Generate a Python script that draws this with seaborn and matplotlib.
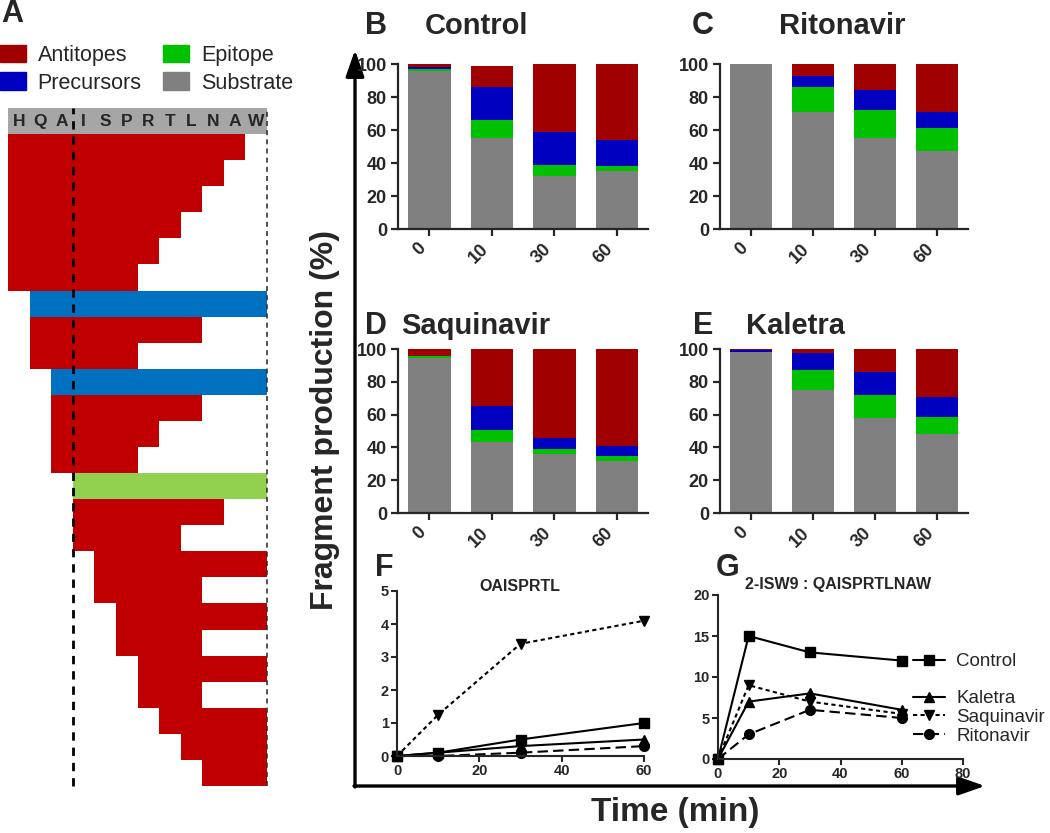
import numpy as np
import matplotlib.pyplot as plt
from matplotlib.patches import Patch
from matplotlib.lines import Line2D
import seaborn as sns

sns.set_style('ticks')
plt.rcParams['font.family'] = ['Liberation Sans', 'DejaVu Sans']
plt.rcParams['font.weight'] = 'bold'

W, H = 1050, 833

# panel A: fragments of HQA|ISPRTLNAW (residue index, end exclusive)
residues = ['H', 'Q', 'A', 'I', 'S', 'P', 'R', 'T', 'L', 'N', 'A', 'W']
frag_start = [0, 0, 0, 0, 0, 0, 1, 1, 1, 2, 2, 2, 2, 3, 3, 3, 4, 4, 5, 5, 6, 6, 7, 8, 9]
frag_end = [11, 10, 9, 8, 7, 6, 12, 9, 6, 12, 9, 7, 6, 12, 10, 8, 12, 9, 12, 9, 12, 9, 12, 12, 12]
frag_kind = (['Antitopes'] * 6
             + ['Precursors', 'Antitopes', 'Antitopes', 'Precursors', 'Antitopes', 'Antitopes', 'Antitopes', 'Epitope']
             + ['Antitopes'] * 11)

# panels B-E: fragment production (%)
times = ['0', '10', '30', '60']
control_substrate = [96, 55, 32, 35]
control_epitope = [1, 11, 7, 3]
control_precursors = [1, 20, 20, 16]
control_antitopes = [2, 13, 41, 46]
ritonavir_substrate = [100, 71, 55, 47]
ritonavir_epitope = [0, 15, 17, 14]
ritonavir_precursors = [0, 7, 12, 10]
ritonavir_antitopes = [0, 7, 16, 29]
saquinavir_substrate = [94.5, 43, 36, 32]
saquinavir_epitope = [1, 7.5, 3, 3]
saquinavir_precursors = [0, 14.5, 7, 6]
saquinavir_antitopes = [4.5, 35, 54, 59]
kaletra_substrate = [98, 75, 58, 48]
kaletra_epitope = [0, 12, 14, 10.5]
kaletra_precursors = [1.2, 10.5, 14, 12.5]
kaletra_antitopes = [0.8, 2.5, 14, 29]

# panels F, G
minutes = [0, 10, 30, 60]
f_control = [0, 0.1, 0.5, 1.0]
f_kaletra = [0, 0.1, 0.3, 0.5]
f_saquinavir = [0, 1.25, 3.4, 4.1]
f_ritonavir = [0, 0, 0.1, 0.3]
g_control = [0, 15, 13, 12]
g_kaletra = [0, 7, 8, 6]
g_saquinavir = [0, 9, 7, 5.5]
g_ritonavir = [0, 3, 6, 5]
drug_names = ['Control', 'Kaletra', 'Saquinavir', 'Ritonavir']

bar_colors = ['#808080', '#00C000', '#0000C0', '#A00000']
map_colors = {'Antitopes': '#C00000', 'Precursors': '#0070C0', 'Epitope': '#92D050'}
line_styles = [('s', '-'), ('^', '-'), ('v', (0, (2, 1.6))), ('o', (0, (5, 2.5)))]

fig = plt.figure(figsize=(W / 100, H / 100), dpi=100)


def px_axes(left, top, right, bottom):
    return fig.add_axes([left / W, 1 - bottom / H, (right - left) / W, (bottom - top) / H])


# overlay for big axes and labels
ov = px_axes(0, 0, W, H)
ov.set_xlim(0, W)
ov.set_ylim(H, 0)
ov.axis('off')
arrow = dict(arrowstyle='-|>,head_length=0.8,head_width=0.28', lw=2.4, color='black',
             mutation_scale=20, shrinkA=0, shrinkB=0)
ov.annotate('', xy=(355, 50), xytext=(355, 787), arrowprops=arrow)
ov.annotate('', xy=(985, 786), xytext=(354, 786), arrowprops=arrow)
ov.text(325, 420, 'Fragment production (%)', rotation=90, ha='center', va='center', fontsize=23)
ov.text(675, 812, 'Time (min)', ha='center', va='center', fontsize=24)
for letter, x, y in [('A', 12, 14), ('B', 376, 26), ('C', 703, 26), ('D', 376, 326),
                     ('E', 703, 326), ('F', 384, 568), ('G', 728, 568)]:
    ov.text(x, y, letter, ha='center', va='center', fontsize=22)
for name, x, y in [('Control', 476, 26), ('Ritonavir', 842, 26),
                   ('Saquinavir', 476, 326), ('Kaletra', 795, 326)]:
    ov.text(x, y, name, ha='center', va='center', fontsize=21)
ov.text(520, 587, 'QAISPRTL', ha='center', va='center', fontsize=11.5)
ov.text(838, 585, '2-ISW9 : QAISPRTLNAW', ha='center', va='center', fontsize=11.5)

# A - fragment map
axA = px_axes(8, 108, 267, 786)
axA.barh(0, len(residues), left=0, height=1, align='edge', color='#A6A6A6', linewidth=0)
rows = np.arange(1, len(frag_start) + 1)
axA.barh(rows, np.subtract(frag_end, frag_start), left=frag_start, height=1, align='edge',
         color=[map_colors[k] for k in frag_kind], linewidth=0)
for i, r in enumerate(residues):
    axA.text(i + 0.5, 0.5, r, ha='center', va='center', fontsize=12.5)
axA.axvline(3, color='black', lw=2, ls=(0, (3, 2.5)), clip_on=False)
axA.axvline(12, color='#333333', lw=1.2, ls=(0, (3, 2.5)), clip_on=False)
axA.set_xlim(0, len(residues))
axA.set_ylim(len(frag_start) + 1, 0)
axA.axis('off')

fig.legend(handles=[Patch(color=bar_colors[3], label='Antitopes'),
                    Patch(color=bar_colors[2], label='Precursors'),
                    Patch(color=bar_colors[1], label='Epitope'),
                    Patch(color=bar_colors[0], label='Substrate')],
           ncol=2, loc='upper left', bbox_to_anchor=(0, 1 - 45 / H), frameon=False,
           prop={'size': 15.5, 'weight': 'normal'}, handlelength=1.2, handleheight=0.85,
           handletextpad=0.55, labelspacing=0.3, columnspacing=1.0, borderpad=0, borderaxespad=0)


def stacked_panel(rect, layers):
    ax = px_axes(*rect)
    tops = np.cumsum(layers, axis=0)
    for top, col in zip(tops[::-1], bar_colors[::-1]):
        sns.barplot(x=times, y=top, color=col, saturation=1, width=0.68,
                    errorbar=None, linewidth=0, ax=ax)
    ax.set_xlim(-0.5, 3.5)
    ax.set_ylim(0, 100)
    ax.set_yticks(range(0, 101, 20))
    ax.set_xticks(range(len(times)))
    ax.set_xticklabels(times, rotation=45, ha='right')
    ax.set_xlabel('')
    ax.set_ylabel('')
    ax.tick_params(labelsize=13, width=1.6, length=5, pad=3)
    sns.despine(ax=ax)
    for s in ax.spines.values():
        s.set_linewidth(1.6)
    return ax


stacked_panel((398, 64, 648, 229), [control_substrate, control_epitope, control_precursors, control_antitopes])
stacked_panel((720, 64, 968, 229), [ritonavir_substrate, ritonavir_epitope, ritonavir_precursors, ritonavir_antitopes])
stacked_panel((398, 349, 648, 513), [saquinavir_substrate, saquinavir_epitope, saquinavir_precursors, saquinavir_antitopes])
stacked_panel((720, 349, 968, 513), [kaletra_substrate, kaletra_epitope, kaletra_precursors, kaletra_antitopes])


def line_panel(rect, series, xmax, ymax, xstep, ystep):
    ax = px_axes(*rect)
    handles = []
    for vals, (marker, ls) in zip(series, line_styles):
        sns.lineplot(x=minutes, y=vals, ax=ax, color='black', marker=marker, linestyle=ls,
                     markersize=7, markeredgecolor='black', markeredgewidth=1, linewidth=1.5,
                     errorbar=None, clip_on=False)
        handles.append(ax.lines[-1])
    ax.set_xlim(0, xmax)
    ax.set_ylim(0, ymax)
    ax.set_xticks(np.arange(0, xmax + 1, xstep))
    ax.set_yticks(np.arange(0, ymax + 1, ystep))
    ax.tick_params(labelsize=10.5, width=1.5, length=4, pad=2)
    sns.despine(ax=ax)
    for s in ax.spines.values():
        s.set_linewidth(1.5)
    if ax.get_legend():
        ax.get_legend().remove()
    return ax, handles


line_panel((397, 591, 644, 756), [f_control, f_kaletra, f_saquinavir, f_ritonavir], 60, 5, 20, 1)
axG, g_handles = line_panel((718, 595, 963, 759), [g_control, g_kaletra, g_saquinavir, g_ritonavir], 80, 20, 20, 5)
blank = Line2D([], [], linestyle='none')
axG.legend([g_handles[0], blank] + g_handles[1:], [drug_names[0], ''] + drug_names[1:],
           loc='upper left', bbox_to_anchor=(913 / W, 1 - 653 / H), bbox_transform=fig.transFigure,
           frameon=False, prop={'size': 13.5, 'weight': 'normal'}, handlelength=1.7,
           handletextpad=0.6, labelspacing=0.08, borderpad=0, borderaxespad=0)

fig.savefig('out.png', dpi=100)
